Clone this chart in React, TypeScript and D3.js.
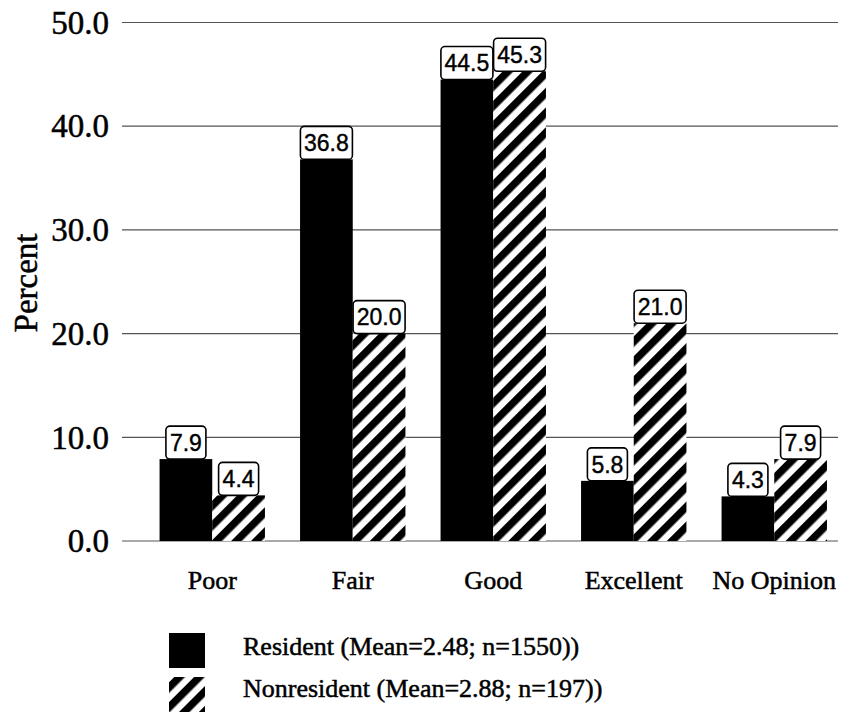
import React from "react";
import * as d3 from "d3";

const categories = ["Poor", "Fair", "Good", "Excellent", "No Opinion"];
const residentValues = [7.9, 36.8, 44.5, 5.8, 4.3];
const nonresidentValues = [4.4, 20.0, 45.3, 21.0, 7.9];
const yTicks = [0, 10, 20, 30, 40, 50];
const seriesNames = ["Resident", "Nonresident"];
const legendLabels = [
  "Resident (Mean=2.48; n=1550))",
  "Nonresident (Mean=2.88; n=197))",
];

const W = 844;
const H = 717;
const SERIF = "'Liberation Serif', 'Times New Roman', serif";
const SANS = "'Liberation Sans Narrow', 'Arial Narrow', 'Liberation Sans', Arial, sans-serif";

export default function App() {
  const y = d3.scaleLinear().domain([0, 50]).range([541, 22.5]);
  const x0 = d3.scaleBand<string>().domain(categories).range([142, 844.5]).paddingInner(0.25).paddingOuter(0.125);
  const x1 = d3.scaleBand<string>().domain(seriesNames).range([0, x0.bandwidth()]).padding(0);
  const gridX0 = 122;
  const gridX1 = 838;

  const bars: { cat: string; series: string; value: number }[] = [];
  categories.forEach((c, i) => {
    bars.push({ cat: c, series: seriesNames[0], value: residentValues[i] });
    bars.push({ cat: c, series: seriesNames[1], value: nonresidentValues[i] });
  });

  const fillFor = (s: string) => (s === seriesNames[0] ? "#000" : "url(#hatch)");
  const heavy = { stroke: "#000", strokeWidth: 0.5 };

  return (
    <svg
      width={W}
      height={H}
      style={{ position: "absolute", left: 0, top: 0, background: "#fff" }}
    >
      <defs>
        <pattern
          id="hatch"
          patternUnits="userSpaceOnUse"
          width={14}
          height={14}
          patternTransform="rotate(45)"
        >
          <rect x={0} y={0} width={14} height={14} fill="#fff" />
          <rect x={0} y={0} width={7.5} height={14} fill="#000" />
        </pattern>
      </defs>
      <rect x={0} y={0} width={W} height={H} fill="#fff" />

      {/* gridlines */}
      {yTicks.map((t) => (
        <line
          key={"g" + t}
          x1={gridX0}
          x2={gridX1}
          y1={y(t)}
          y2={y(t)}
          stroke="#555"
          strokeWidth={1.2}
        />
      ))}

      {/* y tick labels */}
      {yTicks.map((t) => (
        <text
          key={"t" + t}
          x={109}
          y={y(t)}
          dy="0.34em"
          textAnchor="end"
          fontFamily={SERIF}
          fontSize={33}
          fill="#000"
          {...heavy}
        >
          {d3.format(".1f")(t)}
        </text>
      ))}

      {/* y axis title */}
      <text
        transform={`translate(37, 283) rotate(-90)`}
        textAnchor="middle"
        fontFamily={SERIF}
        fontSize={33}
        fill="#000"
        {...heavy}
      >
        Percent
      </text>

      {/* bars */}
      {bars.map((b) => {
        const bx = (x0(b.cat) as number) + (x1(b.series) as number);
        return (
          <rect
            key={b.cat + b.series}
            x={bx}
            y={y(b.value)}
            width={x1.bandwidth()}
            height={y(0) - y(b.value)}
            fill={fillFor(b.series)}
          />
        );
      })}

      {/* value labels */}
      {bars.map((b) => {
        const cx = (x0(b.cat) as number) + (x1(b.series) as number) + x1.bandwidth() / 2;
        const label = d3.format(".1f")(b.value);
        const bw = 12 * label.length + 4;
        const bh = 33;
        const top = y(b.value) - bh;
        return (
          <g key={"l" + b.cat + b.series}>
            <rect
              x={cx - bw / 2}
              y={top}
              width={bw}
              height={bh}
              rx={4}
              ry={4}
              fill="#fff"
              stroke="#000"
              strokeWidth={1.6}
            />
            <text
              x={cx}
              y={top + bh / 2}
              dy="0.36em"
              textAnchor="middle"
              fontFamily={SANS}
              fontSize={23}
              fill="#000"
              stroke="#000"
              strokeWidth={0.4}
            >
              {label}
            </text>
          </g>
        );
      })}

      {/* category labels */}
      {categories.map((c) => (
        <text
          key={"c" + c}
          x={(x0(c) as number) + x0.bandwidth() / 2}
          y={589}
          textAnchor="middle"
          fontFamily={SERIF}
          fontSize={26}
          fill="#000"
          {...heavy}
        >
          {c}
        </text>
      ))}

      {/* legend */}
      {legendLabels.map((l, i) => (
        <g key={"lg" + i}>
          <rect
            x={169}
            y={633 + i * 44}
            width={36}
            height={35}
            fill={fillFor(seriesNames[i])}
          />
          <text
            x={243}
            y={655 + i * 42}
            fontFamily={SERIF}
            fontSize={26}
            fill="#000"
            {...heavy}
          >
            {l}
          </text>
        </g>
      ))}
    </svg>
  );
}
